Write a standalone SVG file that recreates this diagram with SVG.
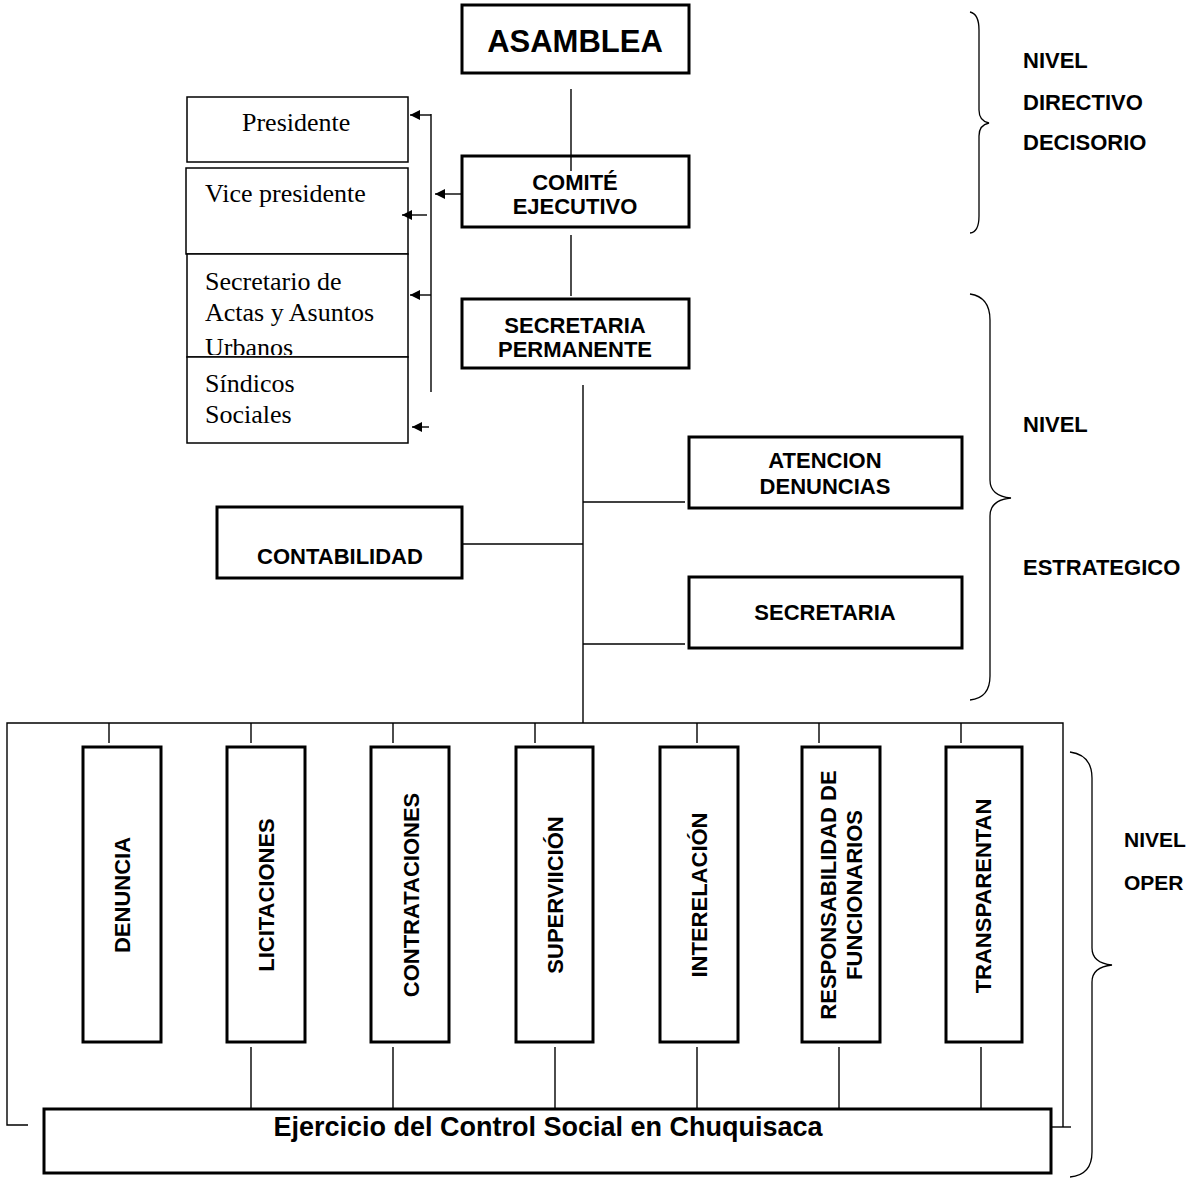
<svg xmlns="http://www.w3.org/2000/svg" width="1188" height="1178" viewBox="0 0 1188 1178">
<style>
.box{fill:#fff;stroke:#000;stroke-width:3}
.lbox{fill:#fff;stroke:#000;stroke-width:1.5}
.ln{fill:none;stroke:#000;stroke-width:1.4}
.br{fill:none;stroke:#000;stroke-width:1.3}
.b{font-family:"Liberation Sans",Arial,sans-serif;font-weight:bold;font-size:22px;fill:#000}
.bm{text-anchor:middle}
.t{font-family:"Liberation Serif","Times New Roman",serif;font-size:26px;fill:#000}
</style>
<defs>
<marker id="ah" markerUnits="userSpaceOnUse" markerWidth="12" markerHeight="11" refX="10" refY="5" orient="auto">
<path d="M0,0 L10,5 L0,10 z" fill="#000"/>
</marker>
<clipPath id="clipSec"><rect x="186" y="254" width="223" height="101"/></clipPath>
</defs>
<rect width="1188" height="1178" fill="#fff"/>

<g id="asamblea">
<rect class="box" x="462" y="5" width="227" height="68"/>
<text class="b bm" x="575" y="52" style="font-size:31px">ASAMBLEA</text>
</g>
<g id="comite">
<rect class="box" x="462" y="156" width="227" height="71"/>
<text class="b bm" x="575" y="190">COMITÉ</text>
<text class="b bm" x="575" y="214">EJECUTIVO</text>
</g>
<g id="secretaria-permanente">
<rect class="box" x="462" y="299" width="227" height="69"/>
<text class="b bm" x="575" y="333">SECRETARIA</text>
<text class="b bm" x="575" y="357">PERMANENTE</text>
</g>

<g id="presidente">
<rect class="lbox" x="187" y="97" width="221" height="65"/>
<text class="t" x="242" y="131">Presidente</text>
</g>
<g id="vicepresidente">
<rect class="lbox" x="186" y="168" width="222" height="86"/>
<text class="t" x="205" y="202">Vice presidente</text>
</g>
<g id="secretario">
<rect class="lbox" x="187" y="254" width="221" height="103"/>
<g clip-path="url(#clipSec)">
<text class="t" x="205" y="290">Secretario de</text>
<text class="t" x="205" y="321">Actas y Asuntos</text>
<text class="t" x="205" y="356">Urbanos</text>
</g>
</g>
<g id="sindicos">
<rect class="lbox" x="187" y="357" width="221" height="86"/>
<text class="t" x="205" y="392">Síndicos</text>
<text class="t" x="205" y="423">Sociales</text>
</g>

<g id="contabilidad">
<rect class="box" x="217" y="507" width="245" height="71"/>
<text class="b bm" x="340" y="564">CONTABILIDAD</text>
</g>
<g id="atencion">
<rect class="box" x="689" y="437" width="273" height="71"/>
<text class="b bm" x="825" y="468">ATENCION</text>
<text class="b bm" x="825" y="494">DENUNCIAS</text>
</g>
<g id="secretaria">
<rect class="box" x="689" y="577" width="273" height="71"/>
<text class="b bm" x="825" y="620">SECRETARIA</text>
</g>

<g id="denuncia">
<rect class="box" x="83" y="747" width="78" height="295"/>
<text class="b bm" transform="translate(130,895) rotate(-90)">DENUNCIA</text>
</g>
<g id="licitaciones">
<rect class="box" x="227" y="747" width="78" height="295"/>
<text class="b bm" transform="translate(274,895) rotate(-90)">LICITACIONES</text>
</g>
<g id="contrataciones">
<rect class="box" x="371" y="747" width="78" height="295"/>
<text class="b bm" transform="translate(419,895) rotate(-90)">CONTRATACIONES</text>
</g>
<g id="supervicion">
<rect class="box" x="516" y="747" width="77" height="295"/>
<text class="b bm" transform="translate(563,895) rotate(-90)">SUPERVIICIÓN</text>
</g>
<g id="interelacion">
<rect class="box" x="660" y="747" width="78" height="295"/>
<text class="b bm" transform="translate(707,895) rotate(-90)">INTERELACIÓN</text>
</g>
<g id="responsabilidad">
<rect class="box" x="802" y="747" width="78" height="295"/>
<text class="b bm" transform="translate(836,895) rotate(-90)">RESPONSABILIDAD DE</text>
<text class="b bm" transform="translate(862,895) rotate(-90)">FUNCIONARIOS</text>
</g>
<g id="transparentan">
<rect class="box" x="946" y="747" width="76" height="295"/>
<text class="b bm" transform="translate(991,896) rotate(-90)">TRANSPARENTAN</text>
</g>

<g id="ejercicio">
<rect class="box" x="44" y="1109" width="1007" height="64"/>
<text class="b bm" x="548" y="1136" style="font-size:27px">Ejercicio del Control Social en Chuquisaca</text>
</g>

<g id="nivel-directivo">
<path class="br" d="M970,12 Q979,14 979,30 L979,110 Q979,121 989,123 Q979,125 979,136 L979,216 Q979,232 970,233"/>
<text class="b" x="1023" y="68">NIVEL</text>
<text class="b" x="1023" y="110">DIRECTIVO</text>
<text class="b" x="1023" y="150">DECISORIO</text>
</g>
<g id="nivel-estrategico">
<path class="br" d="M970,294 Q990,297 990,320 L990,480 Q990,496 1011,498 Q990,500 990,516 L990,676 Q990,698 970,700"/>
<text class="b" x="1023" y="432">NIVEL</text>
<text class="b" x="1023" y="575">ESTRATEGICO</text>
</g>
<g id="nivel-operativo">
<path class="br" d="M1070,752 Q1092,755 1092,778 L1092,948 Q1092,963 1112,965 Q1092,967 1092,982 L1092,1152 Q1092,1175 1070,1177"/>
<text class="b" x="1124" y="847" style="font-size:21px">NIVEL</text>
<text class="b" x="1124" y="890" style="font-size:21px">OPER</text>
</g>

<g id="connectors">
<line class="ln" x1="571" y1="89" x2="571" y2="171"/>
<line class="ln" x1="571" y1="235" x2="571" y2="296"/>
<line class="ln" x1="583" y1="385" x2="583" y2="723"/>
<line class="ln" x1="462" y1="544" x2="583" y2="544"/>
<line class="ln" x1="583" y1="502" x2="685" y2="502"/>
<line class="ln" x1="583" y1="644" x2="685" y2="644"/>
<line class="ln" x1="431" y1="114" x2="431" y2="392"/>
<line class="ln" x1="431" y1="115" x2="410" y2="115" marker-end="url(#ah)"/>
<line class="ln" x1="461" y1="194" x2="435" y2="194" marker-end="url(#ah)"/>
<line class="ln" x1="427" y1="215" x2="402" y2="215" marker-end="url(#ah)"/>
<line class="ln" x1="431" y1="295" x2="410" y2="295" marker-end="url(#ah)"/>
<line class="ln" x1="429" y1="427" x2="412" y2="427" marker-end="url(#ah)"/>
<polyline class="ln" points="28,1125 7,1125 7,723 1063,723 1063,1127"/>
<line class="ln" x1="1052" y1="1127" x2="1071" y2="1127"/>
<line class="ln" x1="109" y1="723" x2="109" y2="743"/>
<line class="ln" x1="251" y1="723" x2="251" y2="743"/>
<line class="ln" x1="393" y1="723" x2="393" y2="743"/>
<line class="ln" x1="535" y1="723" x2="535" y2="743"/>
<line class="ln" x1="697" y1="723" x2="697" y2="743"/>
<line class="ln" x1="819" y1="723" x2="819" y2="743"/>
<line class="ln" x1="961" y1="723" x2="961" y2="743"/>
<line class="ln" x1="251" y1="1047" x2="251" y2="1109"/>
<line class="ln" x1="393" y1="1047" x2="393" y2="1109"/>
<line class="ln" x1="555" y1="1047" x2="555" y2="1109"/>
<line class="ln" x1="697" y1="1047" x2="697" y2="1109"/>
<line class="ln" x1="839" y1="1047" x2="839" y2="1109"/>
<line class="ln" x1="981" y1="1047" x2="981" y2="1109"/>
</g>
</svg>
